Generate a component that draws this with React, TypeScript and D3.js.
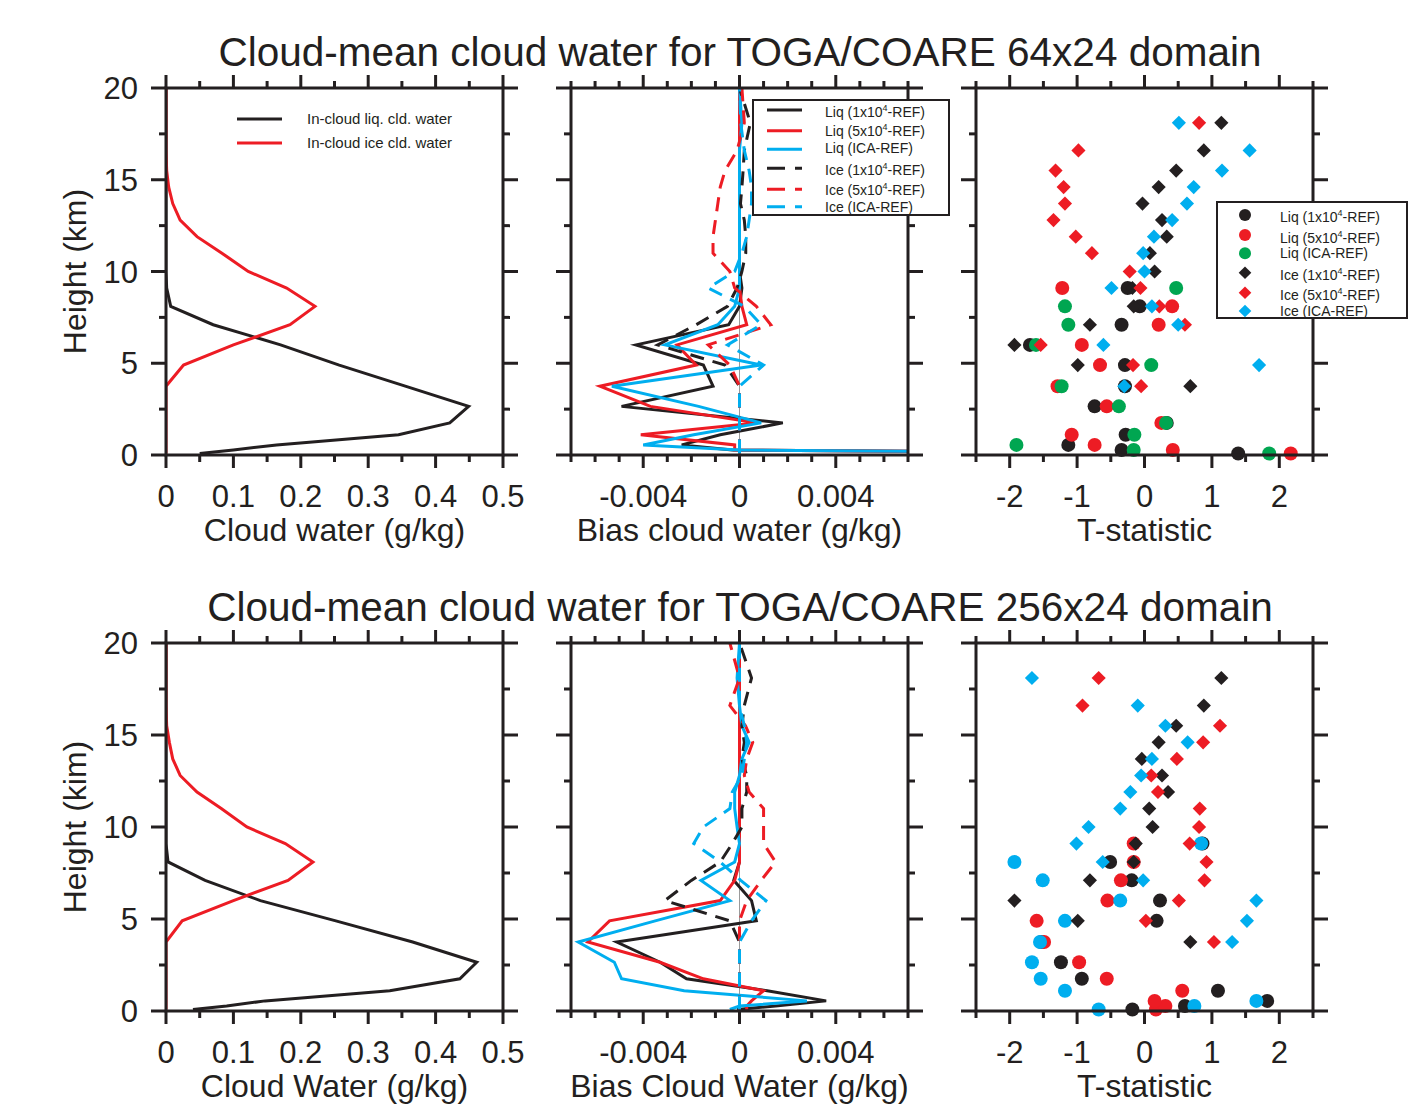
import React, { useEffect, useRef } from 'react'
import * as d3 from 'd3'

const W = 1420
const H = 1109
const FONT = '"Liberation Sans", Arial, Helvetica, sans-serif'
const INK = '#231f20'
const RED = '#ed1c24'
const GREEN = '#00a651'
const BLUE = '#00aeef'

// model levels (km), shared by every profile and every t-statistic column
const levels = [0.08, 0.27, 0.55, 1.1, 1.75, 2.65, 3.75, 4.9, 6.0, 7.1, 8.1, 9.1, 10.0, 11.0, 11.9, 12.8, 13.7, 14.6, 15.5, 16.6, 18.1, 20.0]

// in-cloud water (g/kg)
const liqCloud64 = [0.05, 0.1, 0.164, 0.345, 0.421, 0.449, 0.355, 0.257, 0.17, 0.07, 0.007, 0.001, 0, 0, 0, 0, 0, 0, 0, 0, 0, 0]
const iceCloud64 = [0, 0, 0, 0, 0, 0, 0, 0.026, 0.1, 0.184, 0.221, 0.179, 0.122, 0.083, 0.046, 0.021, 0.01, 0.004, 0.001, 0, 0, 0]
const liqCloud256 = [0.04, 0.09, 0.147, 0.332, 0.436, 0.461, 0.366, 0.252, 0.14, 0.058, 0.003, 0, 0, 0, 0, 0, 0, 0, 0, 0, 0, 0]
const iceCloud256 = [0, 0, 0, 0, 0, 0, 0, 0.024, 0.1, 0.181, 0.218, 0.177, 0.12, 0.082, 0.046, 0.021, 0.01, 0.005, 0.001, 0, 0, 0]

// bias against REF (g/kg), 64x24
const biasLiq1e4_64 = [0.02, -0.0003, -0.0024, -0.0008, 0.0018, -0.0049, -0.0011, -0.0015, -0.0043, -0.00045, 0, 0.0001, 0, 0, 0, 0, 0, 0, 0, 0, 0, 0]
const biasLiq5e4_64 = [0.02, -0.0002, -0.0002, -0.0041, 0.0007, -0.0037, -0.0058, -0.0018, -0.0026, 0.0003, 0.0001, 0, 0, 0, 0, 0, 0, 0, 0, 0, 0, 0]
const biasLiqIca_64 = [0.02, 0, -0.004, -0.0019, 0.0009, -0.0017, -0.0053, 0.0009, -0.0031, -0.0009, -0.0002, 0, 0, 0, 0, 0, 0, 0, 0, 0, 0.0001, 0]
const biasIce1e4_64 = [0, 0, 0, 0, 0, 0, 0, -0.0006, -0.0034, -0.0018, -0.0005, -0.0001, 0.0001, 0.00026, 0.00026, 0.0002, 0.00004, 0.0001, 0.00015, 0.0002, 0.00045, 0]
const biasIce5e4_64 = [0, 0, 0, 0, 0, 0, 0, -0.0004, -0.0013, 0.0013, 0.0007, -0.0002, -0.0004, -0.0011, -0.0011, -0.001, -0.0009, -0.0008, -0.0006, -0.0001, 0.0002, 0.0001]
const biasIceIca_64 = [0, 0, 0, 0, 0, 0, 0, 0.001, -0.0005, 0.0009, 0.0002, -0.0013, -0.0002, 0.0001, 0.0003, 0.0004, 0.0005, 0.0005, 0.0004, 0.0002, 0.00005, 0]

// bias against REF (g/kg), 256x24
const biasLiq1e4_256 = [-0.0001, 0.0015, 0.0036, 0.00115, -0.0022, -0.0033, -0.0051, 0.0007, 0.0005, -0.00024, 0, 0, 0, 0, 0, 0, 0, 0, 0, 0, 0, 0]
const biasLiq5e4_256 = [0.0003, 0.0003, 0.0005, 0.001, -0.0015, -0.0033, -0.0063, -0.0054, -0.0008, -0.0002, 0, 0, 0, 0, 0, 0, 0, 0, 0, 0, 0, 0]
const biasLiqIca_256 = [-0.0004, 0, 0.0028, -0.0023, -0.0049, -0.0052, -0.0067, -0.0035, -0.0004, -0.0016, -0.0002, 0, -0.0001, -0.0002, -0.0002, 0, 0.0001, 0.0004, 0.0001, 0, -0.0001, 0]
const biasIce1e4_256 = [0, 0, 0, 0, 0, 0, 0, -0.0004, -0.0031, -0.002, -0.0008, -0.0003, 0.0001, 0.0001, 0.0003, 0.0003, 0.0001, 0.0002, 0.0001, 0.0002, 0.0005, 0]
const biasIce5e4_256 = [0, 0, 0, 0, 0, 0, 0, 0, 0.0003, 0.0009, 0.0015, 0.001, 0.001, 0.001, 0.0004, 0.0002, 0.0003, 0.00055, 0.00025, -0.0004, 0, -0.0004]
const biasIceIca_256 = [0, 0, 0, 0, 0, 0, 0, 0.0005, 0.0011, 0.00005, -0.0008, -0.0019, -0.0015, -0.0004, -0.0003, 0.0001, 0.0002, 0.0003, 0.0002, 0, 0, 0]

// t-statistic, null where a series has no point
const _ = null
const tLiq1e4_64 = [1.39, -0.34, -1.13, -0.28, 0.33, -0.74, -0.29, -0.29, -1.7, -0.34, -0.07, -0.25, _, _, _, _, _, _, _, _, _, _]
const tLiq5e4_64 = [2.17, 0.42, -0.74, -1.08, 0.25, -0.56, -1.29, -0.66, -0.93, 0.21, 0.41, -1.22, _, _, _, _, _, _, _, _, _, _]
const tLiqIca_64 = [1.85, -0.16, -1.9, -0.15, 0.32, -0.38, -1.23, 0.1, -1.61, -1.13, -1.18, 0.47, _, _, _, _, _, _, _, _, _, _]
const tIce1e4_64 = [_, _, _, _, _, _, 0.68, -0.99, -1.93, -0.81, -0.16, -0.18, 0.15, 0.08, 0.33, 0.26, -0.03, 0.21, 0.47, 0.88, 1.14, _]
const tIce5e4_64 = [_, _, _, _, _, _, -0.05, -0.17, -1.54, 0.6, 0.22, -0.06, -0.22, -0.78, -1.02, -1.35, -1.18, -1.2, -1.32, -0.98, 0.81, _]
const tIceIca_64 = [_, _, _, _, _, _, -0.3, 1.7, -0.61, 0.5, 0.11, -0.49, 0, -0.02, 0.14, 0.41, 0.63, 0.73, 1.15, 1.56, 0.51, _]

const tLiq1e4_256 = [-0.18, 0.6, 1.82, 1.09, -0.93, -1.24, -1.53, 0.18, 0.23, -0.19, -0.51, 0.86, _, _, _, _, _, _, _, _, _, _]
const tLiq5e4_256 = [0.17, 0.31, 0.15, 0.56, -0.56, -0.97, -1.49, -1.6, -0.55, -0.35, -0.16, -0.16, _, _, _, _, _, _, _, _, _, _]
const tLiqIca_256 = [-0.68, 0.74, 1.66, -1.18, -1.54, -1.67, -1.55, -1.18, -0.36, -1.51, -1.93, 0.84, _, _, _, _, _, _, _, _, _, _]
const tIce1e4_256 = [_, _, _, _, _, _, 0.68, -0.99, -1.93, -0.81, -0.16, -0.13, 0.12, 0.07, 0.35, 0.26, -0.04, 0.21, 0.47, 0.88, 1.14, _]
const tIce5e4_256 = [_, _, _, _, _, _, 1.03, 0.02, 0.51, 0.89, 0.92, 0.67, 0.81, 0.82, 0.2, 0.1, 0.48, 0.87, 1.12, -0.92, -0.68, _]
const tIceIca_256 = [_, _, _, _, _, _, 1.3, 1.52, 1.66, -0.02, -0.62, -1.01, -0.83, -0.36, -0.21, -0.05, 0.11, 0.64, 0.31, -0.1, -1.67, _]

// tick labels
const heightTicks = [0, 5, 10, 15, 20]
const cloudTicks = [0, 0.1, 0.2, 0.3, 0.4, 0.5]
const biasTicks = [-0.004, 0, 0.004]
const tTicks = [-2, -1, 0, 1, 2]

const profileLegend = ['In-cloud liq. cld. water', 'In-cloud ice cld. water']
const seriesLegend = [
    ['Liq (1x10', '4', '-REF)'],
    ['Liq (5x10', '4', '-REF)'],
    ['Liq (ICA-REF)'],
    ['Ice (1x10', '4', '-REF)'],
    ['Ice (5x10', '4', '-REF)'],
    ['Ice (ICA-REF)']
]

const rows = [
    {
        title: 'Cloud-mean cloud water for TOGA/COARE 64x24 domain',
        top: 88, bottom: 455,
        yLabel: 'Height (km)',
        xLabels: ['Cloud water (g/kg)', 'Bias cloud water (g/kg)', 'T-statistic'],
        cloud: [liqCloud64, iceCloud64],
        bias: [biasLiq1e4_64, biasLiq5e4_64, biasLiqIca_64, biasIce1e4_64, biasIce5e4_64, biasIceIca_64],
        tstat: [tLiq1e4_64, tLiq5e4_64, tLiqIca_64, tIce1e4_64, tIce5e4_64, tIceIca_64],
        tColors: [INK, RED, GREEN, INK, RED, BLUE]
    },
    {
        title: 'Cloud-mean cloud water for TOGA/COARE 256x24 domain',
        top: 643, bottom: 1011,
        yLabel: 'Height (kim)',
        xLabels: ['Cloud Water (g/kg)', 'Bias Cloud Water (g/kg)', 'T-statistic'],
        cloud: [liqCloud256, iceCloud256],
        bias: [biasLiq1e4_256, biasLiq5e4_256, biasLiqIca_256, biasIce1e4_256, biasIce5e4_256, biasIceIca_256],
        tstat: [tLiq1e4_256, tLiq5e4_256, tLiqIca_256, tIce1e4_256, tIce5e4_256, tIceIca_256],
        tColors: [INK, RED, BLUE, INK, RED, BLUE]
    }
]

const colX = [166, 571, 976]
const PW = 337
const seriesColors = [INK, RED, BLUE, INK, RED, BLUE]
const DASH = '14,9'

const near = (a, b) => Math.abs(a - b) < 1e-9

function drawFrame(g, x, y, xMinor, xMajor, xLabels, fmt, withY) {
    const [x0, x1] = x.range()
    const [y0, y1] = y.range()
    const ticks = g.append('g').attr('stroke', INK).attr('stroke-width', 3)
    xMinor.forEach(v => {
        const len = xMajor.some(m => near(m, v)) ? 13 : 7
        ticks.append('line').attr('x1', x(v)).attr('x2', x(v)).attr('y1', y0).attr('y2', y0 + len)
        ticks.append('line').attr('x1', x(v)).attr('x2', x(v)).attr('y1', y1).attr('y2', y1 - len)
    })
    d3.range(0, 20.01, 2.5).forEach(v => {
        const len = v % 5 === 0 ? 15 : 7
        ticks.append('line').attr('y1', y(v)).attr('y2', y(v)).attr('x1', x0).attr('x2', x0 - len)
        ticks.append('line').attr('y1', y(v)).attr('y2', y(v)).attr('x1', x1).attr('x2', x1 + len)
    })
    g.append('rect')
        .attr('x', x0).attr('y', y1)
        .attr('width', x1 - x0).attr('height', y0 - y1)
        .attr('fill', 'none').attr('stroke', INK).attr('stroke-width', 3)

    g.selectAll('.xtick').data(xLabels).join('text')
        .attr('x', d => x(d)).attr('y', y0 + 52)
        .attr('text-anchor', 'middle').attr('font-size', 31).attr('fill', INK)
        .text(fmt)
    if (withY) {
        g.selectAll('.ytick').data(heightTicks).join('text')
            .attr('x', x0 - 28).attr('y', d => y(d) + 11)
            .attr('text-anchor', 'end').attr('font-size', 31).attr('fill', INK)
            .text(d => d)
    }
}

function clipFor(svg, id, x, y) {
    const [x0, x1] = x.range()
    const [y0, y1] = y.range()
    svg.select('defs').append('clipPath').attr('id', id)
        .append('rect').attr('x', x0).attr('y', y1).attr('width', x1 - x0).attr('height', y0 - y1)
    return `url(#${id})`
}

function legendText(g, parts, xPos, yPos) {
    const t = g.append('text').attr('x', xPos).attr('y', yPos).attr('font-size', 14).attr('fill', INK)
    t.append('tspan').text(parts[0])
    if (parts.length > 1) {
        t.append('tspan').attr('dy', -6).attr('font-size', 9).text(parts[1])
        t.append('tspan').attr('dy', 6).text(parts[2])
    }
}

export default function App() {
    const svgNode = useRef(null)

    useEffect(() => {
        const svg = d3.select(svgNode.current)
        svg.selectAll('*').remove()
        svg.append('defs')
        svg.append('rect').attr('width', W).attr('height', H).attr('fill', '#fff')

        const diamond = d3.symbol(d3.symbolSquare, 100)()

        rows.forEach((row, ri) => {
            const g = svg.append('g')
            const y = d3.scaleLinear().domain([0, 20]).range([row.bottom, row.top])

            g.append('text')
                .attr('x', 740).attr('y', row.top - 22)
                .attr('text-anchor', 'middle').attr('font-size', 40.5).attr('fill', INK)
                .text(row.title)
            g.append('text')
                .attr('transform', `translate(86,${(row.top + row.bottom) / 2}) rotate(-90)`)
                .attr('text-anchor', 'middle').attr('font-size', 32).attr('fill', INK)
                .text(row.yLabel)
            row.xLabels.forEach((lab, ci) => {
                g.append('text')
                    .attr('x', colX[ci] + PW / 2).attr('y', row.bottom + 86)
                    .attr('text-anchor', 'middle').attr('font-size', 32).attr('fill', INK)
                    .text(lab)
            })

            // cloud water profiles
            const xc = d3.scaleLinear().domain([0, 0.5]).range([colX[0], colX[0] + PW])
            const lineC = d3.line().x(v => xc(v)).y((_v, i) => y(levels[i]))
            const pc = g.append('g').attr('clip-path', clipFor(svg, `clip-${ri}-0`, xc, y))
            row.cloud.forEach((vals, si) => {
                pc.append('path').attr('d', lineC(vals))
                    .attr('fill', 'none').attr('stroke', si === 0 ? INK : RED)
                    .attr('stroke-width', 3).attr('stroke-linejoin', 'miter')
            })
            drawFrame(g, xc, y, d3.range(0, 11).map(i => i * 0.05), cloudTicks, cloudTicks, d => d === 0 ? '0' : d.toFixed(1), true)

            // bias profiles
            const xb = d3.scaleLinear().domain([-0.007, 0.007]).range([colX[1], colX[1] + PW])
            const lineB = d3.line().x(v => xb(v)).y((_v, i) => y(levels[i]))
            const pb = g.append('g').attr('clip-path', clipFor(svg, `clip-${ri}-1`, xb, y))
            pb.append('line')
                .attr('x1', xb(0)).attr('x2', xb(0)).attr('y1', row.top).attr('y2', row.bottom)
                .attr('stroke', '#9a9a9a').attr('stroke-width', 1)
            row.bias.forEach((vals, si) => {
                pb.append('path').attr('d', lineB(vals))
                    .attr('fill', 'none').attr('stroke', seriesColors[si])
                    .attr('stroke-width', 3).attr('stroke-linejoin', 'miter')
                    .attr('stroke-dasharray', si >= 3 ? DASH : null)
            })
            drawFrame(g, xb, y, d3.range(-7, 8).map(i => i * 0.001), biasTicks, biasTicks, d => d === 0 ? '0' : d.toFixed(3), false)

            // t-statistic scatter
            const xt = d3.scaleLinear().domain([-2.5, 2.5]).range([colX[2], colX[2] + PW])
            const pt = g.append('g')
            row.tstat.forEach((vals, si) => {
                vals.forEach((v, i) => {
                    if (v === null) return
                    if (si < 3) {
                        pt.append('circle').attr('cx', xt(v)).attr('cy', y(levels[i])).attr('r', 7)
                            .attr('fill', row.tColors[si])
                    } else {
                        pt.append('path').attr('d', diamond)
                            .attr('transform', `translate(${xt(v)},${y(levels[i])}) rotate(45)`)
                            .attr('fill', row.tColors[si])
                    }
                })
            })
            drawFrame(g, xt, y, d3.range(-5, 6).map(i => i * 0.5), tTicks, tTicks, d => String(d), false)

            if (ri === 0) {
                // profile legend
                const lg = svg.append('g')
                profileLegend.forEach((lab, i) => {
                    const ly = [119, 143][i]
                    lg.append('line').attr('x1', 237).attr('x2', 282).attr('y1', ly).attr('y2', ly)
                        .attr('stroke', i === 0 ? INK : RED).attr('stroke-width', 3)
                    lg.append('text').attr('x', 307).attr('y', ly + 5).attr('font-size', 15).attr('fill', INK).text(lab)
                })

                // bias legend
                const bl = svg.append('g')
                bl.append('rect').attr('x', 753).attr('y', 100).attr('width', 196).attr('height', 115)
                    .attr('fill', '#fff').attr('stroke', INK).attr('stroke-width', 2)
                const lineY = [110, 130.7, 149.3, 168.3, 189.3, 206.7]
                const textY = [116.5, 136, 152.5, 174.5, 194.5, 212]
                seriesLegend.forEach((parts, i) => {
                    bl.append('line').attr('x1', 767).attr('x2', 802).attr('y1', lineY[i]).attr('y2', lineY[i])
                        .attr('stroke', seriesColors[i]).attr('stroke-width', 3)
                        .attr('stroke-dasharray', i >= 3 ? '18,10' : null)
                    legendText(bl, parts, 825, textY[i])
                })

                // scatter legend
                const sl = svg.append('g')
                sl.append('rect').attr('x', 1217).attr('y', 202).attr('width', 190).attr('height', 116)
                    .attr('fill', '#fff').attr('stroke', INK).attr('stroke-width', 2)
                const mY = [215, 235, 253.3, 272.7, 292.7, 311]
                const tY = [221.5, 242.5, 258, 279.5, 299.5, 315.5]
                seriesLegend.forEach((parts, i) => {
                    if (i < 3) {
                        sl.append('circle').attr('cx', 1245).attr('cy', mY[i]).attr('r', 6).attr('fill', row.tColors[i])
                    } else {
                        sl.append('path').attr('d', d3.symbol(d3.symbolSquare, 80)())
                            .attr('transform', `translate(1245,${mY[i]}) rotate(45)`)
                            .attr('fill', row.tColors[i])
                    }
                    legendText(sl, parts, 1280, tY[i])
                })
            }
        })
    }, [])

    return (
        <svg ref={svgNode} width={W} height={H}
            style={{ position: 'absolute', left: 0, top: 0, display: 'block', fontFamily: FONT }} />
    )
}
